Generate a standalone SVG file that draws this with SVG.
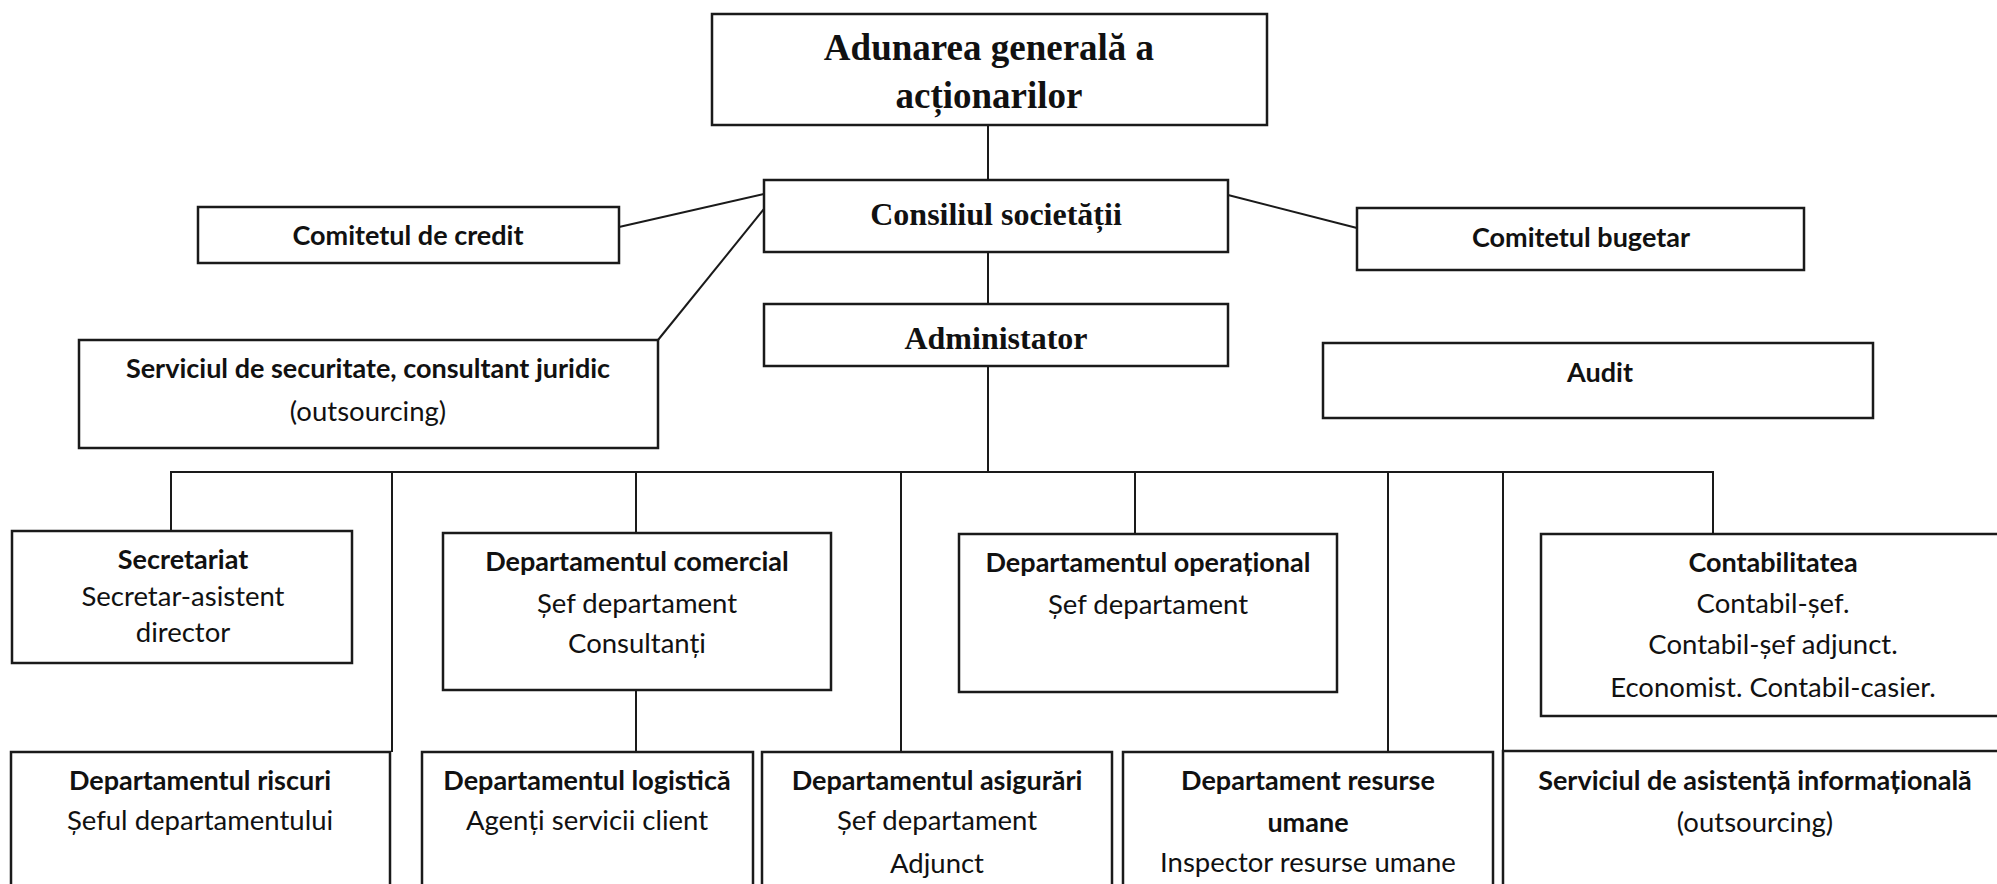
<svg xmlns="http://www.w3.org/2000/svg" width="1997" height="884" viewBox="0 0 1997 884">
<style>
.box{fill:none;stroke:#1a1a1a;stroke-width:2.5}
.ln{fill:none;stroke:#1a1a1a;stroke-width:2}
.sb{font-family:"Liberation Serif","Times New Roman",serif;font-weight:bold;fill:#111;text-anchor:middle}
.b{font-family:Lato,"Open Sans",sans-serif;font-weight:bold;font-size:27px;fill:#111;text-anchor:middle}
.r{font-family:Lato,"Open Sans",sans-serif;font-size:27.5px;fill:#111;text-anchor:middle}
</style>
<rect width="1997" height="884" fill="#ffffff"/>
<g id="connectors">
<line class="ln" x1="988" y1="125" x2="988" y2="180"/>
<line class="ln" x1="988" y1="252" x2="988" y2="304"/>
<line class="ln" x1="988" y1="366" x2="988" y2="472"/>
<line class="ln" x1="619" y1="227" x2="764" y2="194"/>
<line class="ln" x1="658" y1="340" x2="764" y2="209"/>
<line class="ln" x1="1228" y1="195" x2="1357" y2="228"/>
<polyline class="ln" points="171,531 171,472 1713,472 1713,534"/>
<line class="ln" x1="392" y1="472" x2="392" y2="752"/>
<line class="ln" x1="636" y1="472" x2="636" y2="533"/>
<line class="ln" x1="636" y1="690" x2="636" y2="752"/>
<line class="ln" x1="901" y1="472" x2="901" y2="752"/>
<line class="ln" x1="1135" y1="472" x2="1135" y2="534"/>
<line class="ln" x1="1388" y1="472" x2="1388" y2="752"/>
<line class="ln" x1="1503" y1="472" x2="1503" y2="900"/>
</g>
<g id="adunarea">
<rect class="box" x="712" y="14" width="555" height="111"/>
<text class="sb" x="989" y="60" font-size="37">Adunarea generală a</text>
<text class="sb" x="989" y="108" font-size="37">acționarilor</text>
</g>
<g id="consiliul">
<rect class="box" x="764" y="180" width="464" height="72"/>
<text class="sb" x="996" y="225" font-size="32">Consiliul societății</text>
</g>
<g id="administator">
<rect class="box" x="764" y="304" width="464" height="62"/>
<text class="sb" x="996" y="349" font-size="32">Administator</text>
</g>
<g id="comitetul-credit">
<rect class="box" x="198" y="207" width="421" height="56"/>
<text class="b" x="408" y="245">Comitetul de credit</text>
</g>
<g id="comitetul-bugetar">
<rect class="box" x="1357" y="208" width="447" height="62"/>
<text class="b" x="1581" y="247">Comitetul bugetar</text>
</g>
<g id="serviciul-securitate">
<rect class="box" x="79" y="340" width="579" height="108"/>
<text class="b" x="368" y="378">Serviciul de securitate, consultant juridic</text>
<text class="r" x="368" y="421">(outsourcing)</text>
</g>
<g id="audit">
<rect class="box" x="1323" y="343" width="550" height="75"/>
<text class="b" x="1600" y="382">Audit</text>
</g>
<g id="secretariat">
<rect class="box" x="12" y="531" width="340" height="132"/>
<text class="b" x="183" y="569">Secretariat</text>
<text class="r" x="183" y="606">Secretar-asistent</text>
<text class="r" x="183" y="642">director</text>
</g>
<g id="dep-comercial">
<rect class="box" x="443" y="533" width="388" height="157"/>
<text class="b" x="637" y="571">Departamentul comercial</text>
<text class="r" x="637" y="613">Șef departament</text>
<text class="r" x="637" y="653">Consultanți</text>
</g>
<g id="dep-operational">
<rect class="box" x="959" y="534" width="378" height="158"/>
<text class="b" x="1148" y="572">Departamentul operațional</text>
<text class="r" x="1148" y="614">Șef departament</text>
</g>
<g id="contabilitatea">
<rect class="box" x="1541" y="534" width="470" height="182"/>
<text class="b" x="1773" y="572">Contabilitatea</text>
<text class="r" x="1773" y="613">Contabil-șef.</text>
<text class="r" x="1773" y="654">Contabil-șef adjunct.</text>
<text class="r" x="1773" y="697">Economist. Contabil-casier.</text>
</g>
<g id="dep-riscuri">
<rect class="box" x="11" y="752" width="379" height="160"/>
<text class="b" x="200" y="790">Departamentul riscuri</text>
<text class="r" x="200" y="830">Șeful departamentului</text>
</g>
<g id="dep-logistica">
<rect class="box" x="422" y="752" width="331" height="160"/>
<text class="b" x="587" y="790">Departamentul logistică</text>
<text class="r" x="587" y="830">Agenți servicii client</text>
</g>
<g id="dep-asigurari">
<rect class="box" x="762" y="752" width="350" height="160"/>
<text class="b" x="937" y="790">Departamentul asigurări</text>
<text class="r" x="937" y="830">Șef departament</text>
<text class="r" x="937" y="873">Adjunct</text>
</g>
<g id="dep-resurse-umane">
<rect class="box" x="1123" y="752" width="370" height="160"/>
<text class="b" x="1308" y="790">Departament resurse</text>
<text class="b" x="1308" y="832">umane</text>
<text class="r" x="1308" y="872">Inspector resurse umane</text>
</g>
<g id="serviciul-asistenta">
<rect class="box" x="1503" y="751" width="510" height="160"/>
<text class="b" x="1755" y="790">Serviciul de asistență informațională</text>
<text class="r" x="1755" y="832">(outsourcing)</text>
</g>
</svg>
